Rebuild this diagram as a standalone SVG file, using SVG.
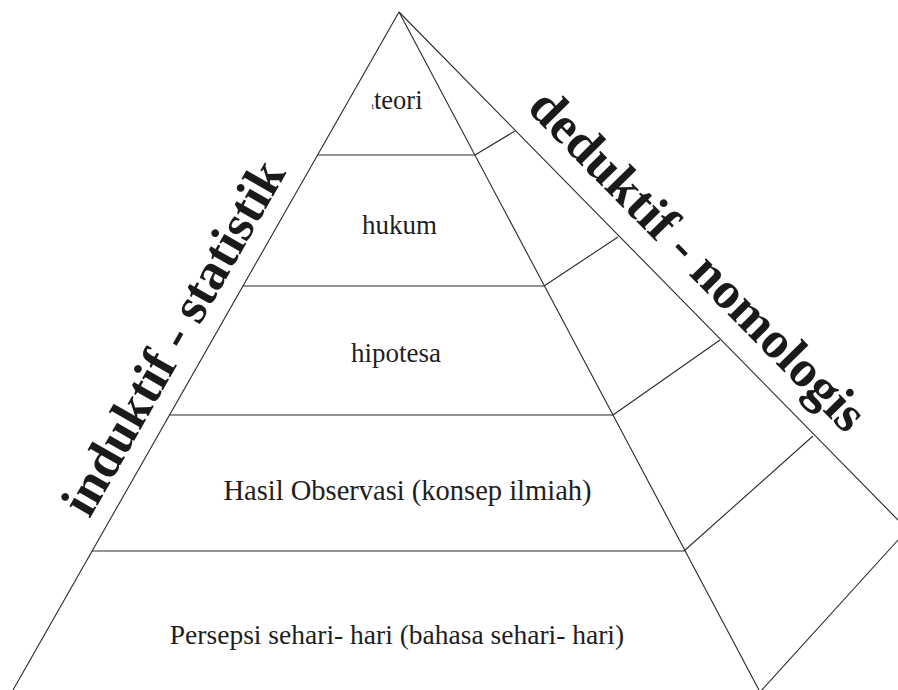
<svg xmlns="http://www.w3.org/2000/svg" width="898" height="690" viewBox="0 0 898 690">
<style>
.ln{stroke:#2a2a2a;stroke-width:1.1;fill:none}
.lb{font-family:"Liberation Serif","Times New Roman",serif;fill:#1e1e1e;text-anchor:middle}
.side{font-family:"Liberation Serif","Times New Roman",serif;font-weight:bold;fill:#1a1a1a;text-anchor:middle;font-size:52px}
</style>
<rect width="898" height="690" fill="#fff"/>
<g id="connectors">
<line class="ln" x1="399" y1="12" x2="13" y2="690"/>
<line class="ln" x1="399" y1="12" x2="759" y2="690"/>
<line class="ln" x1="399" y1="12" x2="898" y2="520"/>
<line class="ln" x1="318" y1="155" x2="475" y2="155"/>
<line class="ln" x1="243" y1="286" x2="544" y2="286"/>
<line class="ln" x1="169" y1="415" x2="613" y2="415"/>
<line class="ln" x1="92" y1="551" x2="684" y2="551"/>
<line class="ln" x1="475" y1="155" x2="515" y2="131"/>
<line class="ln" x1="544" y1="286" x2="618" y2="237"/>
<line class="ln" x1="613" y1="415" x2="720" y2="340"/>
<line class="ln" x1="684" y1="551" x2="813" y2="436"/>
<line class="ln" x1="760" y1="692" x2="898" y2="540"/>
</g>
<g id="teori"><text class="lb" x="397" y="109" font-size="26.5"><tspan font-size="9">t</tspan>teori</text></g>
<g id="hukum"><text class="lb" x="399.5" y="234" font-size="27">hukum</text></g>
<g id="hipotesa"><text class="lb" x="396" y="362" font-size="27">hipotesa</text></g>
<g id="observasi"><text class="lb" x="407.5" y="500" font-size="28.5">Hasil Observasi (konsep ilmiah)</text></g>
<g id="persepsi"><text class="lb" x="397" y="644" font-size="27.5">Persepsi sehari- hari (bahasa sehari- hari)</text></g>
<g id="induktif"><text class="side" transform="translate(188,346) rotate(-60.4)">induktif - statistik</text></g>
<g id="deduktif"><text class="side" transform="translate(686,272) rotate(45.5)">deduktif - nomologis</text></g>
</svg>
